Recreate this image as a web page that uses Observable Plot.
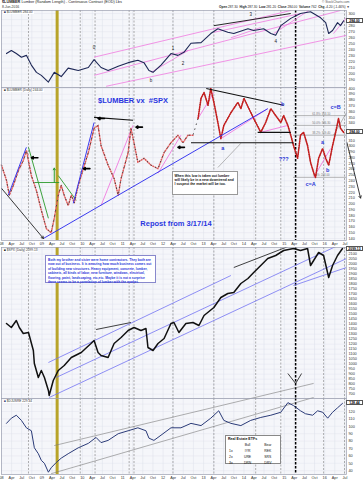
<!DOCTYPE html>
<html><head><meta charset="utf-8">
<script src="https://cdn.jsdelivr.net/npm/d3@7"></script>
<script src="https://cdn.jsdelivr.net/npm/@observablehq/plot@0.6"></script>
<style>
body{margin:0;background:#fff;}
#root{position:relative;width:363px;height:480px;overflow:hidden;font-family:"Liberation Sans",Arial,sans-serif;background:#fff;}
.p{position:absolute;left:0;}
.p svg{overflow:visible;}
.t{position:absolute;white-space:nowrap;line-height:1;}
.vb{position:absolute;left:346px;width:17px;height:5px;background:#fff;border:0.5px solid #555;box-sizing:border-box;font-size:3.4px;line-height:4px;text-align:center;font-weight:bold;color:#000;}
</style></head><body><div id="root"></div>
<script>
// ---------------- data ----------------
const topDates = ["2008-02-15","2008-03-30","2008-05-14","2008-06-29","2008-08-13","2008-09-27","2008-11-12","2008-12-26","2009-02-28","2009-04-22","2009-06-24","2009-08-26","2009-11-25","2010-02-24","2010-04-17","2010-06-19","2010-08-22","2010-11-21","2011-02-19","2011-05-18","2011-07-12","2011-08-26","2011-10-02","2011-12-13","2012-03-12","2012-05-14","2012-07-07","2012-09-09","2012-12-09","2013-03-07","2013-05-10","2013-08-08","2013-10-01","2014-02-06","2014-03-30","2014-06-28","2014-09-01","2014-10-15","2014-11-30","2015-02-28","2015-05-27","2015-08-26","2015-11-25","2016-01-10","2016-02-06","2016-03-12","2016-04-26","2016-05-23","2016-06-20"];
const topValues = [234,239,234,228,231,215,203,198,187,203,196,210,206,211,224,211,206,213,219,223,219,206,203,215,234,231,236,251,252,267,275,269,267,275,272,275,267,264,280,292,300,303,293,285,267,272,285,280,288];

const lumberDates = ["2008-01-01","2008-02-15","2008-03-12","2008-04-17","2008-06-02","2008-07-16","2008-08-13","2008-09-27","2008-11-12","2008-12-26","2009-02-10","2009-03-25","2009-04-22","2009-05-28","2009-06-24","2009-07-21","2009-08-26","2009-09-23","2009-10-20","2009-11-25","2010-01-10","2010-02-24","2010-04-17","2010-05-23","2010-06-19","2010-08-22","2010-10-15","2010-11-21","2010-12-17","2011-02-19","2011-03-16","2011-04-13","2011-05-18","2011-07-12","2011-09-14","2011-11-16","2012-01-10","2012-03-12","2012-05-14","2012-06-28","2012-08-13","2012-09-27","2012-11-12","2012-12-09","2013-01-05","2013-02-10","2013-03-07","2013-04-04","2013-05-10","2013-06-06","2013-07-03","2013-09-05","2013-11-07","2013-12-04","2014-01-01","2014-02-15","2014-03-30","2014-06-02","2014-07-16","2014-09-01","2014-10-15","2014-11-30","2014-12-26","2015-02-02","2015-02-28","2015-03-25","2015-05-01","2015-05-27","2015-06-24","2015-07-30","2015-08-26","2015-09-23","2015-10-10","2015-11-07","2015-12-13","2016-01-10","2016-02-06","2016-03-12","2016-04-09","2016-05-05","2016-05-23","2016-06-20"];
const lumberValues = [267,241,215,232,258,275,293,249,223,189,157,150,175,215,232,215,197,215,202,232,261,289,331,336,301,267,244,215,244,289,331,306,272,279,267,261,289,306,319,306,319,319,348,383,393,371,400,376,341,313,336,358,376,365,383,365,348,324,341,365,353,341,353,336,319,301,279,319,324,301,272,254,246,279,296,279,267,301,324,348,331,324];

const spxDates = ["2008-02-15","2008-03-30","2008-05-14","2008-06-10","2008-07-16","2008-09-01","2008-10-15","2008-10-24","2008-11-29","2008-12-26","2009-01-23","2009-02-28","2009-03-07","2009-04-13","2009-05-28","2009-07-21","2009-09-23","2009-12-22","2010-03-20","2010-04-17","2010-05-23","2010-06-19","2010-08-22","2010-10-15","2010-12-17","2011-02-19","2011-04-13","2011-06-15","2011-07-30","2011-08-17","2011-10-02","2011-11-16","2012-01-10","2012-03-12","2012-04-08","2012-05-23","2012-07-25","2012-09-27","2012-11-20","2013-01-05","2013-04-04","2013-06-06","2013-08-08","2013-10-01","2013-12-04","2014-02-06","2014-03-30","2014-06-02","2014-08-04","2014-10-15","2014-12-26","2015-03-25","2015-05-27","2015-07-30","2015-08-26","2015-09-23","2015-11-07","2015-12-22","2016-02-06","2016-03-12","2016-04-26","2016-06-10"];
const spxValues = [1407,1367,1437,1367,1307,1317,1137,1007,867,937,867,737,687,837,937,987,1067,1117,1207,1237,1117,1087,1067,1207,1267,1337,1367,1337,1357,1167,1137,1207,1257,1407,1417,1317,1407,1417,1387,1487,1567,1667,1707,1717,1807,1857,1917,1987,2057,2087,2137,2157,2137,2157,1987,2037,2117,2087,1867,1987,2087,2157];

const reDates = ["2008-02-15","2008-03-30","2008-05-14","2008-06-29","2008-08-13","2008-09-27","2008-10-24","2008-11-29","2008-12-26","2009-01-23","2009-02-28","2009-03-25","2009-05-09","2009-06-24","2009-08-26","2009-11-25","2010-02-24","2010-05-05","2010-06-19","2010-08-22","2010-11-21","2011-02-19","2011-05-18","2011-07-30","2011-08-26","2011-10-10","2011-12-13","2012-03-12","2012-06-10","2012-09-09","2012-12-09","2013-03-07","2013-05-18","2013-07-03","2013-09-05","2013-12-04","2014-03-03","2014-06-02","2014-09-01","2014-11-30","2015-02-02","2015-03-25","2015-05-27","2015-07-11","2015-09-14","2015-10-29","2015-12-13","2016-01-28","2016-03-12","2016-04-26","2016-06-10"];
const reValues = [104,111,115,108,98,94,71,63,54,50,38,44,51,57,63,71,77,85,78,81,90,94,98,94,84,81,88,98,98,104,101,111,121,108,104,101,108,112,115,119,132,128,121,117,115,121,119,111,119,125,131];

const markerDates = ["2008-09-01","2009-12-13","2010-04-26","2011-02-28","2011-04-13","2012-03-30","2013-04-04","2014-04-17","2014-11-30","2015-12-22","2016-06-28"];
const yellowDate = "2009-05-18";
const blackDate = "2015-04-13";

const p1Ticks = [190,200,210,220,230,240,250,260,270,280,290,300];
const p2Ticks = d3.range(140, 401, 10);
const p3Ticks = d3.range(700, 2151, 50);
const p4Ticks = [40,50,60,70,80,90,100,110,120,130];

// current-value boxes on the right axis
const p1Last = 288, p2Last = 324, p3Last = 2157, p4Last = 131;
const p1LastLabel = "284.00", p2LastLabel = "284.00", p3LastLabel = "2099.13", p4LastLabel = "128.44";

// annotation segments: [date1, value1, date2, value2]
const p1Pink = [["2010-04-17",198,"2016-05-23",305],["2010-04-17",228,"2015-02-28",305],["2010-08-04",180,"2016-07-16",264],["2011-09-14",203,"2012-08-13",239],["2013-04-04",269,"2015-05-27",300],["2013-09-05",260,"2014-06-02",277],["2014-09-27",267,"2015-08-10",305],["2016-03-20",267,"2016-07-16",293]];
const p1Black = [["2013-04-04",280,"2015-02-28",300]];
const p1Labels = [["2010-04-17",244,"0"],["2012-03-30",242,"1"],["2012-06-28",218,"2"],["2011-09-14",190,"b"],["2014-03-03",298,"3"],["2014-10-15",254,"4"]];

const p2Black = [["2010-04-17",350,"2011-04-04",345],["2013-01-25",400,"2014-12-26",371],["2012-09-09",306,"2015-03-25",306],["2014-05-05",324,"2015-02-28",324]];
const p2Arrow = [["2008-01-01",227,"2009-01-14",140],["2016-07-20",306,"2016-11-20",210]];
const p2Blue = [["2009-01-14",140,"2014-08-04",365],["2008-03-03",215,"2008-08-13",298],["2009-10-11",201,"2010-04-17",341]];
const p2Green = [["2008-09-01",298,"2009-02-28",175],["2009-05-28",249,"2009-11-07",206],["2008-10-24",237,"2009-06-06",237]];
const p2GreenUp = [["2009-04-22",237,"2009-04-22",262]];
const p2Pink = [["2010-06-19",197,"2011-04-04",336],["2011-11-16",253,"2012-06-10",319],["2012-11-12",348,"2013-04-04",393],["2013-06-06",313,"2014-08-04",365],["2014-06-02",324,"2015-02-02",336],["2015-09-23",246,"2016-02-24",296]];
const p2Gray = [["2013-05-10",263,"2013-12-04",305],["2016-03-20",319,"2016-07-16",358]];
const fibLevels = [353,336,319,246];
const fibLabels = ["61.8%: 353.10","50.0%: 336.30","38.2%: 319.40","0.0%: 244.00"];
const p2LeftArrows = [["2008-11-25",280,"2008-09-27",280],["2010-03-10",261,"2010-01-10",261],["2010-07-20",348,"2010-05-23",348],["2011-06-28",333,"2011-05-01",333],["2012-07-12",298,"2012-05-14",298]];
const p2Labels = [["2013-06-24",296,"a"],["2014-12-17",373,"b"],["2016-04-09",368,"c=B"],["2014-12-26",277,"???"],["2015-12-13",306,"a"],["2016-01-28",258,"b"],["2015-08-26",234,"c=A"]];
const p2Titles = [["2011-04-04",379,"$LUMBER vx  #SPX"],["2012-04-26",166,"Repost from 3/17/14"]];

const p3Blue = [["2009-02-28",1017,"2013-09-05",1887],["2009-05-09",867,"2016-07-16",2227],["2009-03-07",667,"2016-07-16",2057],["2015-03-25",1787,"2016-07-16",1967]];
const p3Black = [["2010-05-05",1347,"2011-03-16",1417],["2013-10-01",1967,"2015-02-28",2187],["2015-02-02",907,"2015-04-13",807],["2015-06-06",907,"2015-04-13",807]];

const p4Gray = [["2009-04-22",74,"2015-09-23",158],["2009-03-25",36,"2015-09-23",139]];

// ---------------- helpers ----------------
const D = s => new Date(s);
const rows = (ds, vs) => ds.map((d, i) => ({date: D(d), value: vs[i]}));
const segs = a => a.map(s => ({x1: D(s[0]), y1: s[1], x2: D(s[2]), y2: s[3]}));
const pts = a => a.map(s => ({x: D(s[0]), y: s[1], t: s[2]}));
const X0 = D("2008-01-01"), X1 = D("2016-07-16");
const quarters = d3.utcMonth.every(3).range(X0, X1);
const fmtQ = d => d.getUTCMonth() === 0 ? d3.utcFormat("%y")(d) : d3.utcFormat("%b")(d);
const root = document.getElementById("root");
const FONT = "'Liberation Sans', Arial, sans-serif";

// drop axis labels hidden behind the current-value box
function freeTicks(ticks, domain, plotH, v) {
  const k = plotH / (domain[1] - domain[0]);
  return ticks.filter(t => Math.abs((t - v) * k) > 4.6);
}

function bg(gridTicks) {
  return [
    Plot.frame({fill: "#f5f6fa", stroke: "none"}),
    Plot.ruleY(gridTicks, {stroke: "#e3e5ee", strokeWidth: 0.5}),
    Plot.ruleX(quarters, {stroke: "#dde0ea", strokeWidth: 0.5}),
    Plot.ruleX(markerDates.map(D), {stroke: "#7a7a7a", strokeWidth: 0.6, strokeDasharray: "2,1.5"}),
    Plot.ruleX([D(yellowDate)], {stroke: "#b8a42a", strokeWidth: 3}),
    Plot.ruleX([D(blackDate)], {stroke: "#000", strokeWidth: 1.5, strokeDasharray: "2.5,1.5"})
  ];
}

function panel(top, height, domain, ticks, last, marks, showX, bottom) {
  const shown = freeTicks(ticks, domain, height - bottom, last);
  const p = Plot.plot({
    width: 363, height,
    marginLeft: 1, marginRight: 17, marginTop: 0, marginBottom: bottom,
    x: {type: "utc", domain: [X0, X1], axis: showX ? "bottom" : null, ticks: quarters, tickFormat: fmtQ, tickSize: 0, tickPadding: 1.5, label: null},
    y: {domain, axis: "right", ticks: shown, tickSize: 0, tickPadding: 2, label: null, tickFormat: d => String(d)},
    style: {fontSize: "3.8px", fontFamily: FONT, overflow: "visible", background: "transparent", color: "#333"},
    marks: [...bg(ticks), ...marks, Plot.frame({stroke: "#9a9fb0", strokeWidth: 0.7})]
  });
  const div = document.createElement("div");
  div.className = "p"; div.style.top = top + "px";
  div.appendChild(p); root.appendChild(div);
  return p;
}

function valueBox(p, top, v, label) {
  const s = p.scale("y");
  const y = d3.scaleLinear(s.domain, s.range)(v);
  const b = document.createElement("div");
  b.className = "vb"; b.style.top = (top + y - 2.5) + "px"; b.textContent = label;
  root.appendChild(b);
}

function addText(x, y, html, css) {
  const t = document.createElement("div");
  t.className = "t"; t.style.left = x + "px"; t.style.top = y + "px";
  t.style.cssText += css; t.innerHTML = html;
  root.appendChild(t); return t;
}

const link = (a, stroke, w, extra = {}) => Plot.link(segs(a), {x1: "x1", y1: "y1", x2: "x2", y2: "y2", stroke, strokeWidth: w, ...extra});
const arrow = (a, stroke, w, head) => Plot.arrow(segs(a), {x1: "x1", y1: "y1", x2: "x2", y2: "y2", stroke, strokeWidth: w, headLength: head});

// ---------------- header ----------------
addText(2, 1, "<b>$LUMBER</b> Lumber (Random Length) - Continuous Contract (EOD) Lbs", "font-size:3.8px;color:#222;");
addText(2, 5.5, "8-Jun-2016", "font-size:3.4px;color:#333;");
addText(322, 1, "© StockCharts.com", "font-size:3.2px;color:#555;");
addText(219, 5.5, "<b>Open</b> 287.30 &nbsp;<b>High</b> 287.30 &nbsp;<b>Low</b> 281.20 &nbsp;<b>Close</b> 284.00 &nbsp;<b>Volume</b> 762 &nbsp;<b>Chg</b> -4.20 (-1.46%) ▼", "font-size:3.2px;color:#222;");

// ---------------- panel 1 ----------------
const P1 = panel(10, 77, [178, 305], p1Ticks, p1Last, [
  link(p1Pink, "#f07ae0", 0.8, {clip: true}),
  link(p1Black, "#111", 0.9),
  Plot.line(rows(topDates, topValues), {x: "date", y: "value", stroke: "#1d2756", strokeWidth: 1.1}),
  Plot.text(pts(p1Labels), {x: "x", y: "y", text: "t", fontSize: 4.5, fill: "#222"})
], false, 0);
valueBox(P1, 10, p1Last, p1LastLabel);
addText(3, 11, "<span style='color:#1d2756'>■</span> $LUMBER 284.00", "font-size:3.2px;color:#333;background:#fff;padding:0 1px;");

// ---------------- panel 2 ----------------
const lum = rows(lumberDates, lumberValues);
const P2 = panel(87, 160, [136.5, 401.7], p2Ticks, p2Last, [
  Plot.ruleY(fibLevels, {x1: D("2015-03-25"), x2: X1, stroke: "#8a8a8a", strokeWidth: 0.6}),
  Plot.text(fibLevels.map((v, i) => ({v, t: fibLabels[i]})), {x: D("2015-12-01"), y: "v", text: "t", dy: -2, fontSize: 2.8, fill: "#777"}),
  link(p2Green, "#2a9a2a", 0.9),
  arrow(p2GreenUp, "#2a9a2a", 1, 3),
  link(p2Pink, "#f07ae0", 0.9),
  link(p2Gray, "#999", 0.7),
  Plot.line(lum.filter(d => d.date < D("2012-10-01")), {x: "date", y: "value", stroke: "#e05a5a", strokeWidth: 1.5, strokeDasharray: "0.8,1.7"}),
  Plot.line(lum, {x: "date", y: "value", stroke: "#444", strokeWidth: 1, strokeDasharray: "0.6,4.5"}),
  Plot.line(lum.filter(d => d.date >= D("2012-10-01")), {x: "date", y: "value", stroke: "#c41e1e", strokeWidth: 1.6, strokeDasharray: "1,1.2"}),
  link(p2Blue, "#3b3bf0", 1),
  link(p2Black, "#111", 1.1, {clip: true}),
  arrow(p2Arrow, "#222", 0.9, 4),
  arrow(p2LeftArrows, "#000", 1.6, 2.5),
  Plot.text(pts(p2Labels), {x: "x", y: "y", text: "t", fontSize: 5.5, fontWeight: "bold", fill: "#2a36d8"}),
  Plot.text(pts(p2Titles), {x: "x", y: "y", text: "t", fontSize: 7.5, fontWeight: "bold", fill: "#2a36e0"})
], true, 7);
valueBox(P2, 87, p2Last, p2LastLabel);
addText(3, 88.5, "<span style='color:#333'>■</span> $LUMBER (Daily) 244.00", "font-size:3.2px;color:#333;background:#fff;padding:0 1px;");
addText(172, 171, "When this low is taken out lumber will likely be in a new downtrend and I suspect the market will be too.", "white-space:normal;width:66px;height:24px;background:#fff;border:0.6px solid #999;padding:1.5px;box-sizing:border-box;font-size:3.4px;line-height:4.2px;font-weight:bold;color:#111;");

// ---------------- panel 3 ----------------
const P3 = panel(247, 151, [657, 2167], p3Ticks, p3Last, [
  link(p3Blue, "#7474f2", 0.8, {clip: true}),
  link(p3Black, "#111", 0.8, {clip: true}),
  Plot.line(rows(spxDates, spxValues), {x: "date", y: "value", stroke: "#111", strokeWidth: 1.5})
], false, 0);
valueBox(P3, 247, p3Last, p3LastLabel);
addText(3, 248.5, "<span style='color:#111'>■</span> $SPX (Daily) 2099.13", "font-size:3.2px;color:#333;background:#fff;padding:0 1px;");
addText(45, 255, "Both my brother and sister were home contractors. They both are now out of business. It is amazing how much business comes out of building new structures. Heavy equipment, concrete, lumber, cabinets, all kinds of labor, new furniture, windows, electrical, flooring, paint, landscaping, etc,etc. Maybe it is not a surprise there seems to be a correlation of lumber with the market.", "white-space:normal;width:111px;height:28px;background:#fff;border:0.6px solid #8888cc;padding:1.5px 2px;box-sizing:border-box;font-size:3.3px;line-height:4.6px;font-weight:bold;color:#2a36d8;");

// ---------------- panel 4 ----------------
const P4 = panel(398, 82, [34.9, 137.6], p4Ticks, p4Last, [
  link(p4Gray, "#7a7a7a", 0.6),
  Plot.line(rows(reDates, reValues), {x: "date", y: "value", stroke: "#2b3b78", strokeWidth: 1})
], true, 6);
valueBox(P4, 398, p4Last, p4LastLabel);
addText(3, 399.5, "<span style='color:#2b3b78'>■</span> $DJUSRE 229.44", "font-size:3.2px;color:#333;background:#fff;padding:0 1px;");
addText(225, 435, "<div style='font-weight:bold'>Real Estate ETFs</div><table style='border-collapse:collapse;font-size:3.4px;margin-top:1px'><tr><td style='width:8px'></td><td style='width:20px;text-align:center'>Bull</td><td style='text-align:center;width:20px'>Bear</td></tr><tr><td>1x</td><td style='text-align:center'>IYR</td><td style='text-align:center'>REK</td></tr><tr><td>2x</td><td style='text-align:center'>URE</td><td style='text-align:center'>SRS</td></tr><tr><td>3x</td><td style='text-align:center'>DRN</td><td style='text-align:center'>DRV</td></tr></table>", "white-space:normal;width:56px;height:29px;background:#fff;border:0.6px solid #888;padding:1px 2px;box-sizing:border-box;font-size:3.6px;line-height:4px;color:#111;");
</script>
</body></html>
